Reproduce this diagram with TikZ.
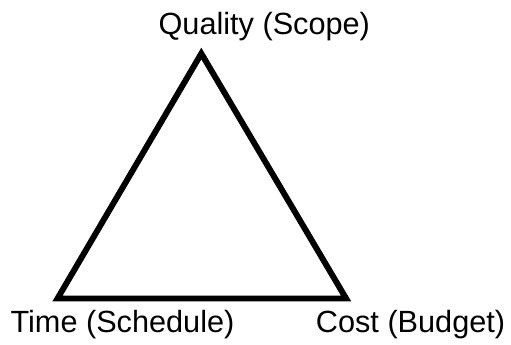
\documentclass[tikz,border=0pt]{standalone}
\usepackage{fontspec}
\setmainfont{Liberation Sans}
\usepackage{tikz}
\usetikzlibrary{calc}

\begin{document}
\begin{tikzpicture}[line join=miter, font=\fontsize{17.6}{21}\selectfont]
    %% Background
    \draw[draw=none] (0,0) rectangle (10.22,6.94);

    %% Corners
    \coordinate (quality) at (4.06,5.86);
    \coordinate (time) at (1.16,0.92);
    \coordinate (cost) at (6.98,0.92);

    %% Triangle
    \draw[line width=3.4pt] (quality) -- (cost) -- (time) -- cycle;

    %% Notes
    \node[anchor=base] (qualitylabel) at (5.33,6.24) {Quality (Scope)};
    \node[anchor=base] (timelabel) at (2.47,0.24) {Time (Schedule)};
    \node[anchor=base] (costlabel) at (8.28,0.24) {Cost (Budget)};
\end{tikzpicture}
\end{document}
